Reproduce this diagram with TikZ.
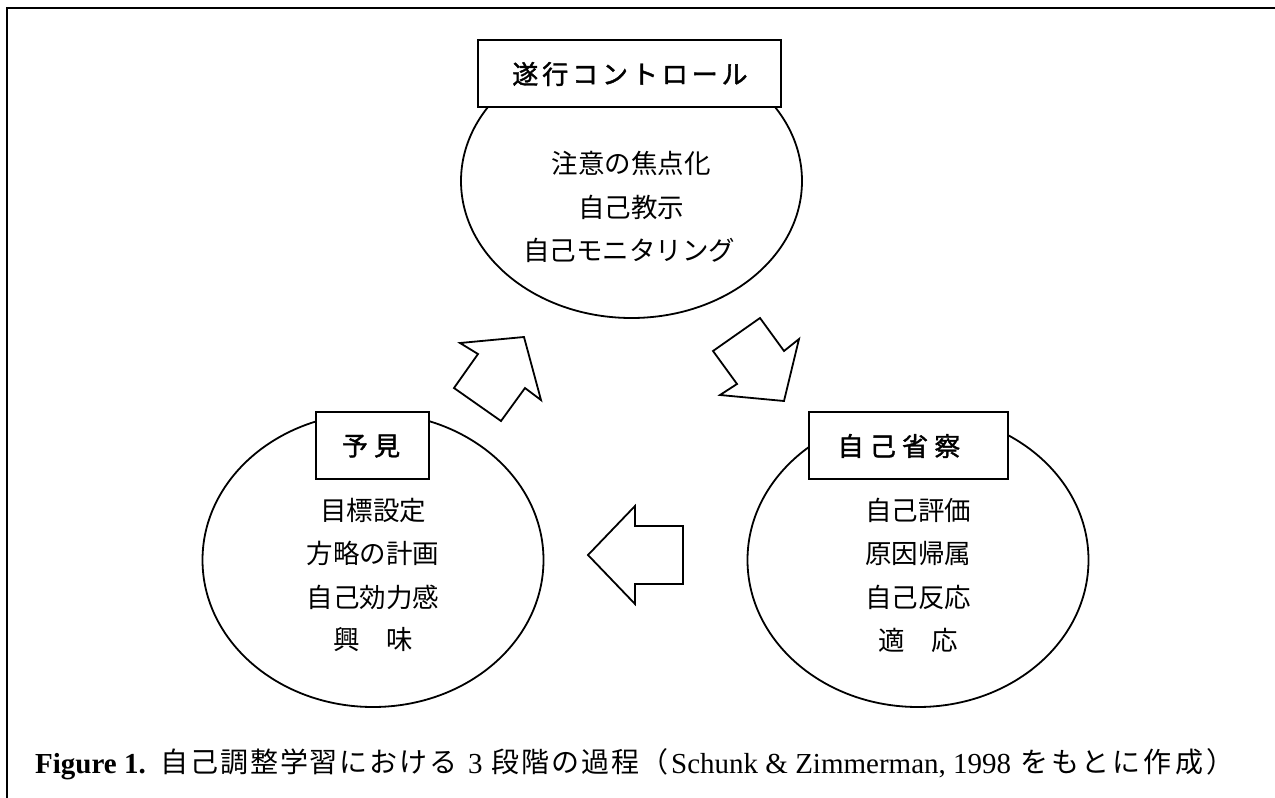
\documentclass[tikz,border=0pt]{standalone}
\usepackage{fontspec}
\setmainfont{Liberation Serif}
\newfontfamily\jp{Noto Sans CJK JP}
\newfontfamily\jpcap{Noto Sans CJK JP}[LetterSpace=7]
\newfontfamily\jpwide{Noto Sans CJK JP}[LetterSpace=11]
\newfontfamily\jph{Noto Sans CJK JP}[LetterSpace=15,FakeBold=1.5]
\newfontfamily\jphw{Noto Sans CJK JP}[LetterSpace=24,FakeBold=1.5]
\usetikzlibrary{shapes.geometric}
\begin{document}
\begin{tikzpicture}[x=1pt,y=-1pt,
  phase/.style={draw,ellipse,line width=1.8pt,inner sep=0pt,minimum width=341pt},
  headbox/.style={draw,fill=white,line width=1.3pt,inner sep=0pt,minimum height=67pt},
  item/.style={inner sep=0pt,font=\jp\fontsize{26.5}{26.5}\selectfont},
  captxt/.style={anchor=base west,inner sep=0pt},
  blockarrow/.style={draw,fill=white,line width=1.8pt,line join=miter}]
\useasboundingbox (0,0) rectangle (1275,798);
\draw[line width=1.6pt] (7,798) -- (7,8) -- (1275,8);
% ellipses
\node[phase,minimum height=274pt] (perf) at (631.5,181) {};
\node[phase,minimum height=294pt] (fore) at (373,560) {};
\node[phase,minimum height=294pt] (refl) at (918,560) {};
% header boxes
\node[headbox,minimum width=303pt] (perfh) at (629.5,73.5) {};
\node[font=\jph\fontsize{26}{26}\selectfont,inner sep=0pt] (perft) at (630,74) {遂行コントロール};
\node[headbox,minimum width=113pt] (foreh) at (372.5,445.5) {};
\node[font=\jphw\fontsize{26}{26}\selectfont,inner sep=0pt] (foret) at (371,446) {予見};
\node[headbox,minimum width=199pt] (reflh) at (908.5,445.5) {};
\node[font=\jphw\fontsize{26}{26}\selectfont,inner sep=0pt] (reflt) at (899,446) {自己省察};
% items
\node[item] (p1) at (631,163) {注意の焦点化};
\node[item] (p2) at (631,207) {自己教示};
\node[item] (p3) at (629,250) {自己モニタリング};
\node[item] (f1) at (373,510) {目標設定};
\node[item] (f2) at (373,553) {方略の計画};
\node[item] (f3) at (373,597) {自己効力感};
\node[item] (f4) at (373,640) {興　味};
\node[item] (r1) at (918,510) {自己評価};
\node[item] (r2) at (918,553) {原因帰属};
\node[item] (r3) at (918,597) {自己反応};
\node[item] (r4) at (918,640) {適　応};
% block arrows
\draw[blockarrow] (524,337) -- (541,400) -- (525,388) -- (501,421) -- (454,388) -- (478,354) -- (460,343) -- cycle;
\draw[blockarrow] (784,401) -- (720,395) -- (737,384) -- (713,351) -- (760,318) -- (784,351) -- (799,339) -- cycle;
\draw[blockarrow] (588,555) -- (635,506) -- (635,526) -- (683,526) -- (683,584) -- (635,584) -- (635,604) -- cycle;
% caption
\node[captxt,font=\bfseries\fontsize{29}{29}\selectfont] (cap1) at (35,773) {Figure 1.};
\node[captxt,font=\jpcap\fontsize{28}{28}\selectfont] (cap2) at (160,772) {自己調整学習における};
\node[captxt,font=\fontsize{29}{29}\selectfont] (cap3) at (468,773) {3};
\node[captxt,font=\jpcap\fontsize{28}{28}\selectfont] (cap4) at (491,772) {段階の過程（};
\node[captxt,font=\fontsize{29}{29}\selectfont] (cap5) at (671,773) {Schunk \& Zimmerman, 1998};
\node[captxt,font=\jpwide\fontsize{28}{28}\selectfont] (cap6) at (1020,772) {をもとに作成）};
\end{tikzpicture}
\end{document}
